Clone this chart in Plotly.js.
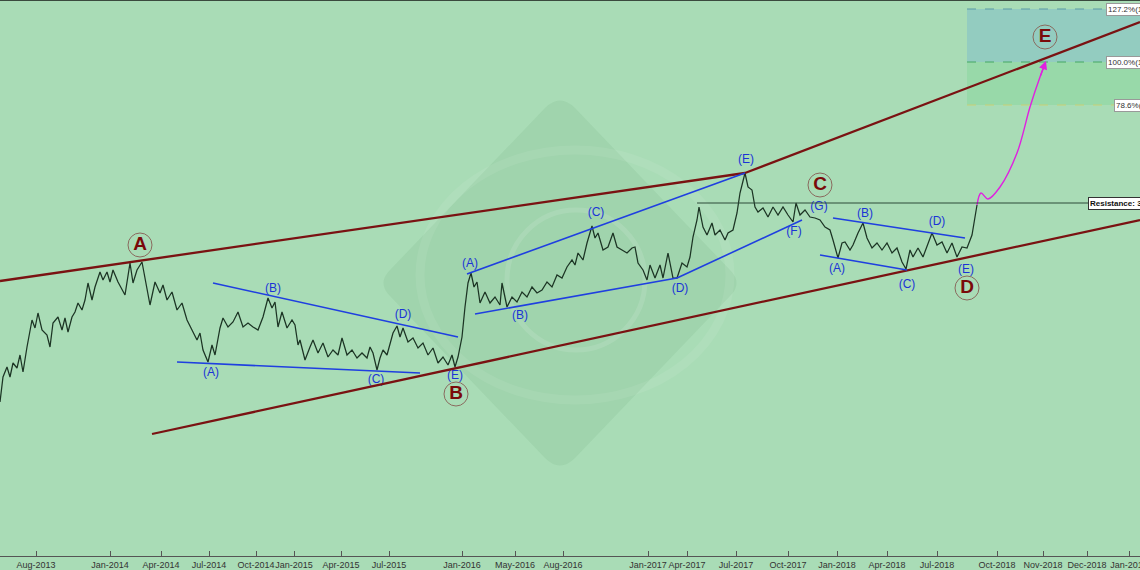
<!DOCTYPE html>
<html>
<head>
<meta charset="utf-8">
<script src="https://cdn.plot.ly/plotly-3.0.1.min.js"></script>
<style>html,body{margin:0;padding:0;background:#a9dcb6;}#chart{width:1140px;height:570px;}</style>
</head>
<body>
<div id="chart"></div>
<script>
// ---- data (bar index on x, price on y) ----
const barIndex = [0,3,7,10,13,17,20,23,27,32,35,38,42,47,50,53,58,62,65,68,72,75,78,82,85,88,92,95,100,103,107,110,113,118,125,130,133,137,142,147,150,155,160,163,167,172,177,182,187,192,197,200,203,208,212,215,220,223,228,233,238,243,248,253,258,263,268,272,275,278,282,287,292,295,298,300,305,310,313,318,323,328,333,338,342,347,352,357,362,367,370,373,377,380,383,387,390,393,397,400,403,408,413,418,423,428,433,438,443,448,452,455,458,462,465,468,471,474,477,480,485,490,495,500,502,507,512,517,522,527,532,537,542,547,552,557,562,567,572,575,578,583,587,592,595,598,603,608,613,617,622,627,632,635,638,643,647,650,655,660,663,668,673,677,682,687,690,693,697,699,703,707,712,715,720,725,728,733,737,740,745,748,752,755,758,763,768,773,778,783,788,793,796,800,805,810,815,820,825,830,833,838,842,845,850,853,858,863,867,872,877,882,887,892,897,902,906,910,913,918,923,928,932,937,942,947,952,957,962,967,972,975,977];
const price = [168,193,203,193,207,202,215,198,223,250,242,257,240,235,223,247,253,240,252,238,253,258,267,260,270,287,270,283,298,290,298,288,300,288,275,307,287,300,308,283,265,288,277,285,270,278,260,267,250,240,230,237,220,208,225,215,242,252,243,248,258,243,247,243,240,253,272,262,268,243,258,242,250,245,225,230,210,223,230,217,227,213,220,215,232,215,220,212,217,212,223,217,200,212,220,215,227,237,244,233,242,228,232,222,227,215,222,207,213,205,215,203,213,233,263,287,297,283,288,267,278,267,273,265,287,263,273,268,278,273,283,277,280,288,283,295,292,303,310,305,317,310,327,344,332,337,320,323,337,323,320,317,322,323,307,300,290,305,292,305,292,317,292,292,307,303,313,333,350,363,343,335,347,335,340,330,337,340,357,377,397,383,380,363,358,362,353,363,355,363,355,348,367,355,360,353,352,350,343,340,330,312,327,328,320,325,337,347,332,322,327,320,327,317,322,308,301,320,313,322,313,327,337,325,328,317,327,313,323,322,335,353,365];

// projection of the move (magenta)
const projX = [977,981,988,1000,1017,1030,1040,1045];
const projY = [365,377,371,383,417,463,493,506];

// x-axis ticks
const tickPos = [36,110,161,209,256,294,341,389,462,515,563,648,687,736,788,837,887,937,997,1043,1087,1129];
const tickText = ['Aug-2013','Jan-2014','Apr-2014','Jul-2014','Oct-2014','Jan-2015','Apr-2015','Jul-2015','Jan-2016','May-2016','Aug-2016','Jan-2017','Apr-2017','Jul-2017','Oct-2017','Jan-2018','Apr-2018','Jul-2018','Oct-2018','Nov-2018','Dec-2018','Jan-2019'];

// primary wave labels (circled)
const majorLabels = ['A','B','C','D','E'];
const majorX = [140,456,820,967,1045];
const majorY = [325,176,385,282,533];

// minor wave labels
const minorLabels = ['(A)','(B)','(C)','(D)','(E)','(A)','(B)','(C)','(D)','(E)','(F)','(G)','(A)','(B)','(C)','(D)','(E)'];
const minorX = [211,273,376,403,455,470,520,596,680,746,794,819,837,865,907,937,966];
const minorY = [197,281,190,255,194,306,254,357,281,410,338,363,301,356,285,348,300];

// channel lines (brown): [x0,y0,x1,y1]
const channelLines = [[0,289,745,397],[745,397,1140,548],[152,136,1140,350]];
// wave trend lines (blue)
const waveLines = [[177,208,420,197],[213,287,458,233],[467,296,745,397],[475,256,677,292],[677,292,802,350],[833,352,965,332],[820,315,907,300]];

// resistance and fibonacci levels
const resistance = 367;
const resStart = 697, resEnd = 1090;
const fibLevels = [561,508,465];
const fibNames = ['127.2%(1','100.0%(1','78.6%('];
const fibStart = 967;

// ---- build ----
const FONT = 'Arial, Liberation Sans, sans-serif';
const traces = [];
traces.push({x: barIndex, y: price, type:'scatter', mode:'lines', line:{color:'#1c3424', width:1.25}, hoverinfo:'skip'});
traces.push({x: projX, y: projY, type:'scatter', mode:'lines', line:{color:'#e020e0', width:1.4, shape:'spline', smoothing:1}, hoverinfo:'skip'});
traces.push({x: majorX, y: majorY, type:'scatter', mode:'markers+text', text: majorLabels.map(s=>'<b>'+s+'</b>'),
  textposition:'middle center', textfont:{family:FONT, size:19, color:'#7a0a0a'},
  marker:{size:24, color:'rgba(0,0,0,0)', line:{color:'#8a6a5e', width:1}}, hoverinfo:'skip', cliponaxis:false});
traces.push({x: minorX, y: minorY, type:'scatter', mode:'text', text: minorLabels, textposition:'middle center',
  textfont:{family:FONT, size:12, color:'#1b34d6'}, hoverinfo:'skip', cliponaxis:false});

const shapes = [];
// watermark
shapes.push({type:'path', xref:'x', yref:'y', layer:'below',
  path:'M 390 300 Q 377 287 390 274 L 545 112 Q 560 97 575 112 L 730 274 Q 743 287 730 300 L 575 462 Q 560 477 545 462 Z',
  fillcolor:'rgba(40,110,60,0.07)', line:{width:0}});
shapes.push({type:'circle', xref:'x', yref:'y', layer:'below', x0:507, x1:645, y0:220, y1:360, line:{color:'rgba(255,255,255,0.11)', width:5}});
shapes.push({type:'circle', xref:'x', yref:'y', layer:'below', x0:420, x1:730, y0:170, y1:420, line:{color:'rgba(255,255,255,0.07)', width:9}});
// fib zones
shapes.push({type:'rect', xref:'x', yref:'y', layer:'below', x0:fibStart, x1:1140, y0:fibLevels[1], y1:fibLevels[0], fillcolor:'#93ccc0', line:{width:0}});
shapes.push({type:'rect', xref:'x', yref:'y', layer:'below', x0:fibStart, x1:1140, y0:fibLevels[2], y1:fibLevels[1], fillcolor:'#98d9a9', line:{width:0}});
const fibColors = ['#5b9aa6','#45a864','#c9cf74'];
fibLevels.forEach((v,i)=>shapes.push({type:'line', xref:'x', yref:'y', x0:fibStart, x1:1140, y0:v, y1:v, line:{color:fibColors[i], width:1, dash:'dash'}}));
// resistance
shapes.push({type:'line', xref:'x', yref:'y', x0:resStart, x1:resEnd, y0:resistance, y1:resistance, line:{color:'#2d4a38', width:1}});
// channels
channelLines.forEach(l=>shapes.push({type:'line', xref:'x', yref:'y', x0:l[0], y0:l[1], x1:l[2], y1:l[3], line:{color:'#7a1212', width:2.3}}));
waveLines.forEach(l=>shapes.push({type:'line', xref:'x', yref:'y', x0:l[0], y0:l[1], x1:l[2], y1:l[3], line:{color:'#1f3fe0', width:1.6}}));
// top border
shapes.push({type:'line', xref:'paper', yref:'paper', x0:0, x1:1, y0:1, y1:1, line:{color:'#3a4a3e', width:2}});

const annotations = [];
annotations.push({x:projX[projX.length-1]+1, y:projY[projY.length-1]+3, ax:projX[projX.length-2], ay:projY[projY.length-2], xref:'x', yref:'y', axref:'x', ayref:'y',
  showarrow:true, arrowhead:2, arrowsize:1.2, arrowwidth:1.4, arrowcolor:'#e020e0', text:''});
annotations.push({x:resEnd-2, y:resistance, xref:'x', yref:'y', xanchor:'left', yanchor:'middle', showarrow:false,
  text:'<b>Resistance: 3</b>', font:{family:FONT, size:8, color:'#111'}, bgcolor:'#ffffff', bordercolor:'#333', borderwidth:1, borderpad:1});
fibLevels.forEach((v,i)=>annotations.push({x:i===2?1114:1106, y:v, xref:'x', yref:'y', xanchor:'left', yanchor:'middle', showarrow:false,
  text:fibNames[i], font:{family:FONT, size:8, color:'#333'}, bgcolor:'#ffffff', bordercolor:'#999', borderwidth:1, borderpad:1}));

const layout = {
  width:1140, height:570,
  margin:{l:0, r:0, t:0, b:14, pad:0},
  paper_bgcolor:'#a9dcb6', plot_bgcolor:'#a9dcb6',
  showlegend:false,
  xaxis:{range:[0,1140], tickmode:'array', tickvals:tickPos, ticktext:tickText, ticks:'inside', ticklen:5, tickcolor:'#555',
    tickangle:0, ticklabeloverflow:'allow', showgrid:false, zeroline:false, showline:true, linecolor:'#555', linewidth:1,
    tickfont:{family:FONT, size:9, color:'#333'}, automargin:false, fixedrange:true},
  yaxis:{range:[14,570], showticklabels:false, showgrid:false, zeroline:false, showline:false, ticks:'', fixedrange:true},
  shapes:shapes, annotations:annotations
};
Plotly.newPlot('chart', traces, layout, {displayModeBar:false, staticPlot:true});
</script>
</body>
</html>
